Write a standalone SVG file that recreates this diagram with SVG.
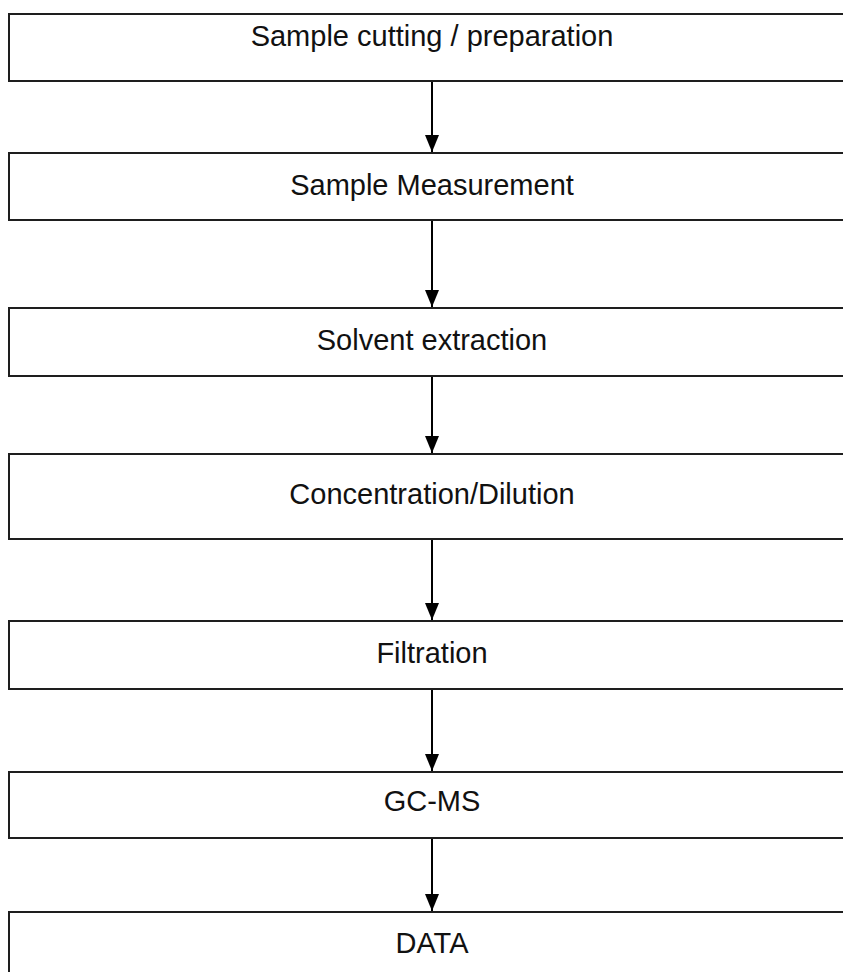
<svg xmlns="http://www.w3.org/2000/svg" width="843" height="972" viewBox="0 0 843 972">
<style>
.box{fill:#fff;stroke:#1e1e1e;stroke-width:2}
.lbl{font-family:"Liberation Sans",Arial,sans-serif;font-size:29px;fill:#111;text-anchor:middle}
.conn{stroke:#000;stroke-width:2;fill:none}
</style>
<defs>
<marker id="ah" viewBox="0 0 17 14" refX="17" refY="7" markerWidth="17" markerHeight="14" markerUnits="userSpaceOnUse" orient="auto">
<path d="M0,0 L17,7 L0,14 Z" fill="#000"/>
</marker>
</defs>
<rect width="843" height="972" fill="#fff"/>
<g id="connectors">
<line class="conn" x1="432" y1="81" x2="432" y2="152" marker-end="url(#ah)"/>
<line class="conn" x1="432" y1="220" x2="432" y2="307" marker-end="url(#ah)"/>
<line class="conn" x1="432" y1="376" x2="432" y2="453" marker-end="url(#ah)"/>
<line class="conn" x1="432" y1="539" x2="432" y2="620" marker-end="url(#ah)"/>
<line class="conn" x1="432" y1="689" x2="432" y2="771" marker-end="url(#ah)"/>
<line class="conn" x1="432" y1="838" x2="432" y2="911" marker-end="url(#ah)"/>
</g>
<g id="n1"><rect class="box" x="9" y="14" width="845" height="67"/><text class="lbl" x="432" y="46">Sample cutting / preparation</text></g>
<g id="n2"><rect class="box" x="9" y="153" width="845" height="67"/><text class="lbl" x="432" y="195">Sample Measurement</text></g>
<g id="n3"><rect class="box" x="9" y="308" width="845" height="68"/><text class="lbl" x="432" y="350">Solvent extraction</text></g>
<g id="n4"><rect class="box" x="9" y="454" width="845" height="85"/><text class="lbl" x="432" y="504">Concentration/Dilution</text></g>
<g id="n5"><rect class="box" x="9" y="621" width="845" height="68"/><text class="lbl" x="432" y="663">Filtration</text></g>
<g id="n6"><rect class="box" x="9" y="772" width="845" height="66"/><text class="lbl" x="432" y="811">GC-MS</text></g>
<g id="n7"><rect class="box" x="9" y="912" width="845" height="80"/><text class="lbl" x="432" y="953">DATA</text></g>
</svg>
